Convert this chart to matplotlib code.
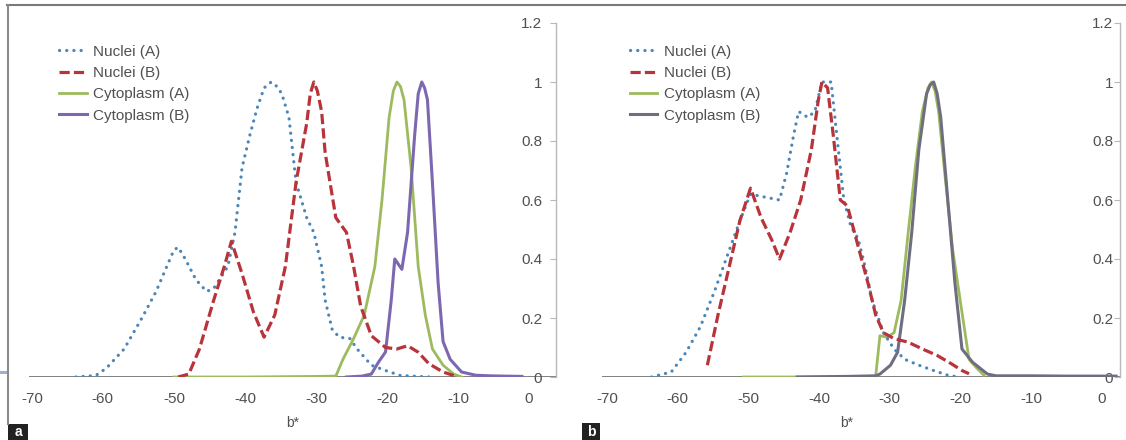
import matplotlib
matplotlib.use("Agg")
import matplotlib.pyplot as plt
from matplotlib.patches import Rectangle
from matplotlib.lines import Line2D

plt.rcParams['font.family'] = ['Liberation Sans', 'DejaVu Sans']

# ---------------- Panel a data ----------------
a_nucA_x = [-63.8, -61, -59.5, -57, -54.5, -52.5, -51, -50, -49.4, -48.4, -46.9, -45.4, -44.4,
            -42.4, -41.4, -40.4, -39.3, -38.3, -37.3, -36.3, -35.5, -34.8, -33.8, -32.8, -31.3,
            -30.3, -29.2, -28.7, -27.7, -26.7, -25.2, -24.2, -22.2, -20.2, -18.1, -14]
a_nucA_y = [0, 0.005, 0.03, 0.095, 0.2, 0.29, 0.375, 0.43, 0.44, 0.40, 0.33, 0.29, 0.30,
            0.375, 0.49, 0.71, 0.82, 0.91, 0.98, 1.0, 0.985, 0.96, 0.88, 0.66, 0.54,
            0.49, 0.375, 0.26, 0.16, 0.135, 0.13, 0.095, 0.04, 0.022, 0.005, 0]

a_nucB_x = [-49.4, -47.9, -46.4, -44.4, -42.9, -41.9, -40.4, -38.8, -37.3, -35.8, -34.3, -32.8,
            -31.3, -30.8, -30.3, -29.8, -29.2, -28.7, -27.2, -25.7, -24.7, -23.7, -22.2, -20.2,
            -18.6, -17.1, -15.6, -14.1, -12.1, -10.6]
a_nucB_y = [0, 0.01, 0.095, 0.26, 0.375, 0.46, 0.35, 0.22, 0.135, 0.21, 0.375, 0.66,
            0.86, 0.96, 1.0, 0.97, 0.90, 0.76, 0.54, 0.49, 0.375, 0.24, 0.14, 0.10,
            0.095, 0.106, 0.084, 0.045, 0.017, 0.005]

a_cytA_x = [-50, -40, -30, -27.2, -26.2, -24.7, -23.2, -21.7, -20.7, -19.7, -19.1, -18.6,
            -18.1, -17.6, -16.6, -15.6, -14.6, -13.6, -12.1, -10.6, -9.5]
a_cytA_y = [0, 0, 0.002, 0.003, 0.06, 0.13, 0.21, 0.375, 0.60, 0.88, 0.97, 1.0,
            0.985, 0.94, 0.71, 0.375, 0.21, 0.095, 0.04, 0.01, 0]

a_cytB_x = [-25.7, -23.5, -22.2, -21.2, -20.2, -19.4, -18.9, -17.9, -17.1, -16.1, -15.6, -15.1,
            -14.7, -14.3, -13.6, -12.8, -12.1, -11.1, -9.5, -7.5, -5.5, -3.5, -1.0]
a_cytB_y = [0, 0.003, 0.01, 0.05, 0.085, 0.26, 0.40, 0.365, 0.49, 0.82, 0.96, 1.0,
            0.98, 0.94, 0.66, 0.32, 0.12, 0.06, 0.017, 0.006, 0.004, 0.003, 0.002]

# ---------------- Panel b data ----------------
b_nucA_x = [-63.7, -60.9, -58.8, -56.8, -54.8, -52.7, -51.2, -49.7, -47.7, -45.6, -44.6, -43.6,
            -42.9, -41.6, -40.6, -39.6, -38.3, -37.5, -36.5, -35.5, -34.5, -33.5, -32.5, -30.9,
            -29.4, -27.9, -25.9, -23.8, -21.8, -20.3]
b_nucA_y = [0, 0.017, 0.084, 0.17, 0.29, 0.43, 0.53, 0.62, 0.61, 0.60, 0.69, 0.82,
            0.90, 0.88, 0.90, 1.0, 1.0, 0.82, 0.60, 0.51, 0.47, 0.375, 0.26, 0.15,
            0.095, 0.06, 0.04, 0.022, 0.006, 0]

b_nucB_x = [-55.8, -54.3, -52.7, -51.2, -49.7, -48.2, -46.7, -45.6, -44.1, -42.6, -41.1, -40.1,
            -39.6, -38.8, -38.0, -37.0, -36.0, -35.0, -34.0, -33.0, -32.0, -30.9, -29.4, -27.4,
            -25.4, -23.3, -21.3, -19.8, -18.8]
b_nucB_y = [0.04, 0.21, 0.375, 0.53, 0.64, 0.54, 0.465, 0.40, 0.49, 0.60, 0.77, 0.94,
            1.0, 0.98, 0.82, 0.60, 0.58, 0.49, 0.40, 0.31, 0.21, 0.15, 0.13, 0.118,
            0.095, 0.073, 0.045, 0.022, 0.011]

b_cytA_x = [-50.7, -40, -32, -31.4, -30.4, -29.4, -28.4, -27.4, -26.4, -25.4, -24.6, -24.1,
            -23.6, -23.1, -22.1, -21.1, -19.8, -18.8, -17.7, -16.7]
b_cytA_y = [0, 0, 0.002, 0.14, 0.135, 0.15, 0.26, 0.49, 0.71, 0.90, 0.98, 1.0,
            0.97, 0.90, 0.66, 0.43, 0.22, 0.06, 0.03, 0.006]

b_cytB_x = [-43.1, -36, -32, -31.4, -29.9, -28.9, -27.9, -26.9, -25.9, -24.8, -24.3, -23.8,
            -23.3, -22.8, -21.8, -20.8, -19.8, -18.3, -16.2, -15, -10, -5, 0, 2]
b_cytB_y = [0, 0.002, 0.004, 0.01, 0.04, 0.084, 0.26, 0.49, 0.77, 0.96, 0.99, 1.0,
            0.96, 0.88, 0.60, 0.32, 0.095, 0.05, 0.01, 0.004, 0.004, 0.003, 0.003, 0.003]

labels = ["Nuclei (A)", "Nuclei (B)", "Cytoplasm (A)", "Cytoplasm (B)"]
x_ticks = [-70, -60, -50, -40, -30, -20, -10, 0]
y_ticks = [0, 0.2, 0.4, 0.6, 0.8, 1, 1.2]
y_ticklabels = ["0", "0.2", "0.4", "0.6", "0.8", "1", "1.2"]

C_BLUE = "#4a86b8"
C_RED = "#b8343a"
C_GREEN = "#9dbb5e"
C_PURPLE = "#7c68b0"
C_GRAY = "#6f6e80"
TXT = "#505050"

W, H = 1126, 440
fig = plt.figure(figsize=(W / 100, H / 100), dpi=100)


def px_axes(left, right, bottom_px, top_px):
    return fig.add_axes([left / W, 1 - bottom_px / H, (right - left) / W, (bottom_px - top_px) / H])


def style(ax, xlim, ypad, leg_x, cytB_color, series):
    (nAx, nAy), (nBx, nBy), (cAx, cAy), (cBx, cBy) = series
    ax.plot(nAx, nAy, color=C_BLUE, lw=2.3, linestyle=(0, (0.05, 2.2)),
            dash_capstyle='round', solid_joinstyle='round', label=labels[0], zorder=3)
    ax.plot(nBx, nBy, color=C_RED, lw=2.3, linestyle=(0, (3.2, 1.3)), label=labels[1], zorder=3)
    ax.plot(cAx, cAy, color=C_GREEN, lw=2.0, label=labels[2], zorder=2,
            solid_joinstyle='round')
    ax.plot(cBx, cBy, color=cytB_color, lw=2.2, label=labels[3], zorder=2,
            solid_joinstyle='round')
    ax.set_xlim(*xlim)
    ax.set_ylim(0, 1.2)
    ax.axhline(0, color="#808080", lw=1.4, zorder=1)
    for s in ["top", "left", "bottom"]:
        ax.spines[s].set_visible(False)
    ax.spines["right"].set_color("#b8b8b8")
    ax.spines["right"].set_linewidth(1.0)
    ax.yaxis.set_ticks_position("right")
    ax.set_yticks(y_ticks)
    ax.set_yticklabels(y_ticklabels)
    ax.tick_params(axis="y", direction="in", length=4, color="#b8b8b8",
                   pad=-ypad, labelsize=11, labelcolor=TXT)
    for t in ax.get_yticklabels():
        t.set_horizontalalignment("right")
    ax.set_xticks(x_ticks)
    ax.set_xticklabels([str(v) for v in x_ticks])
    ax.tick_params(axis="x", length=0, pad=11, labelsize=11, labelcolor=TXT)
    ax.patch.set_alpha(0)
    leg = ax.legend(loc="upper left", bbox_to_anchor=(leg_x, 0.939), frameon=False,
                    fontsize=11, handlelength=1.8, handletextpad=0.4, labelspacing=0.48,
                    borderpad=0, borderaxespad=0)
    for t in leg.get_texts():
        t.set_color(TXT)


ax_a = px_axes(29, 556, 377, 23)
style(ax_a, (-70.4, 3.8), 10, 0.057, C_PURPLE,
      [(a_nucA_x, a_nucA_y), (a_nucB_x, a_nucB_y), (a_cytA_x, a_cytA_y), (a_cytB_x, a_cytB_y)])

ax_b = px_axes(602, 1120, 377, 23)
style(ax_b, (-70.7, 2.55), 5, 0.054, C_GRAY,
      [(b_nucA_x, b_nucA_y), (b_nucB_x, b_nucB_y), (b_cytA_x, b_cytA_y), (b_cytB_x, b_cytB_y)])

# axis titles
fig.text(293 / W, 1 - 423 / H, "b*", ha="center", va="center", fontsize=10, color=TXT)
fig.text(847 / W, 1 - 423 / H, "b*", ha="center", va="center", fontsize=10, color=TXT)

# frame lines (screenshot border)
fig.add_artist(Line2D([7 / W, 1], [1 - 5 / H, 1 - 5 / H], color="#7a7a7a", lw=1.5))
fig.add_artist(Line2D([8 / W, 8 / W], [1 - 5 / H, 1 - 424 / H], color="#8a8a8a", lw=1.5))
fig.add_artist(Rectangle((0, 1 - 374 / H), 7 / W, 3 / H, color="#9fb2cc", lw=0))

# panel letters
fig.add_artist(Rectangle((8 / W, 0), 20 / W, 16 / H, color="#222222", lw=0))
fig.text(18 / W, 8 / H, "a", ha="center", va="center", fontsize=10, color="white", fontweight="bold")
fig.add_artist(Rectangle((582 / W, 0), 18 / W, 17 / H, color="#222222", lw=0))
fig.text(591 / W, 8 / H, "b", ha="center", va="center", fontsize=10, color="white", fontweight="bold")

fig.savefig("out.png", dpi=100, facecolor="white")
